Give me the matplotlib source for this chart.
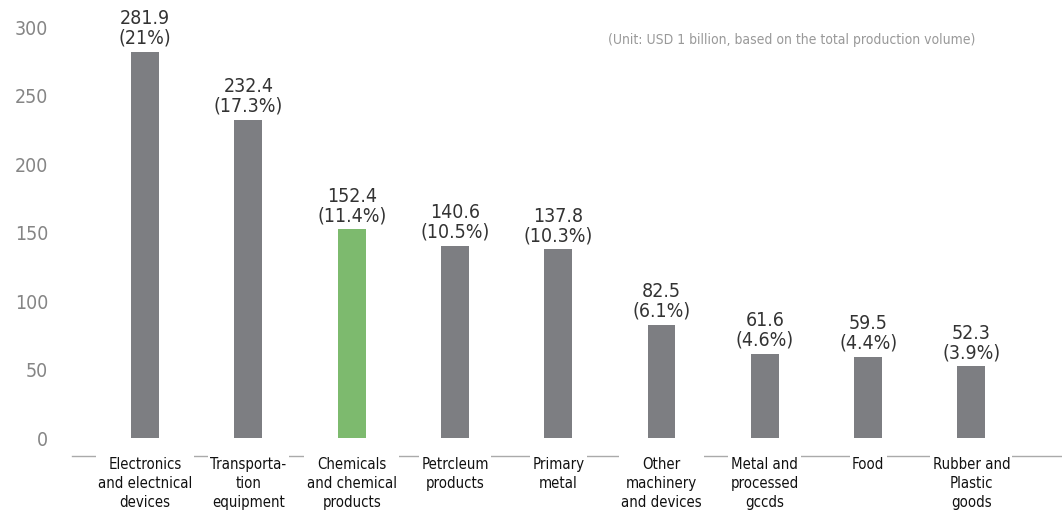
import matplotlib.pyplot as plt
import numpy as np

categories = ['Electronics\nand electnical\ndevices', 'Transporta-\ntion\nequipment',
              'Chemicals\nand chemical\nproducts', 'Petrcleum\nproducts', 'Primary\nmetal',
              'Other\nmachinery\nand devices', 'Metal and\nprocessed\ngccds', 'Food',
              'Rubber and\nPlastic\ngoods']
values = [281.9, 232.4, 152.4, 140.6, 137.8, 82.5, 61.6, 59.5, 52.3]
shares = ['21%', '17.3%', '11.4%', '10.5%', '10.3%', '6.1%', '4.6%', '4.4%', '3.9%']
highlight = 2
yticks = [0, 50, 100, 150, 200, 250, 300]
unit_note = '(Unit: USD 1 billion, based on the total production volume)'

plt.rcParams['font.family'] = ['DejaVu Sans']
plt.rcParams['font.stretch'] = 'condensed'

fig = plt.figure(figsize=(10.62, 5.19), dpi=100)
ax = fig.add_axes([72 / 1062, 63 / 519, 1 - 72 / 1062, 456 / 519])

x = np.arange(len(values))
colors = ['#7d7e82'] * len(values)
colors[highlight] = '#7dba6e'
ax.bar(x, values, width=0.27, color=colors, zorder=2)

# value + share above each bar
for xi, v, s in zip(x, values, shares):
    ax.annotate(f'{v}\n({s})', (xi, v), xytext=(0, 3), textcoords='offset points',
                ha='center', va='bottom', fontsize=14, color='#333333',
                linespacing=1.05)

ax.set_xlim(-0.707, 8.877)
ax.set_ylim(-13.1, 320)
ax.set_yticks(yticks)
ax.set_yticklabels([str(t) for t in yticks], fontsize=14, color='#858585')
ax.tick_params(axis='y', length=0, pad=17)
ax.set_xticks([])
for sp in ['top', 'right', 'left']:
    ax.spines[sp].set_visible(False)
ax.spines['bottom'].set_color('#aaaaaa')
ax.spines['bottom'].set_linewidth(1.0)

# category labels with white boxes that break the base line
for xi, lab in zip(x, categories):
    ax.annotate(lab, (xi, -13.1), xytext=(0, -1), textcoords='offset points',
                ha='center', va='top', fontsize=10.7, color='#111111',
                linespacing=1.33, zorder=5, annotation_clip=False,
                bbox=dict(boxstyle='square,pad=0.15', fc='white', ec='none'))

ax.text((975 - 72) / 990, 1 - 40 / 456, unit_note, transform=ax.transAxes,
        ha='right', va='center', fontsize=10, color='#999999')

fig.savefig('out.png', dpi=100)
